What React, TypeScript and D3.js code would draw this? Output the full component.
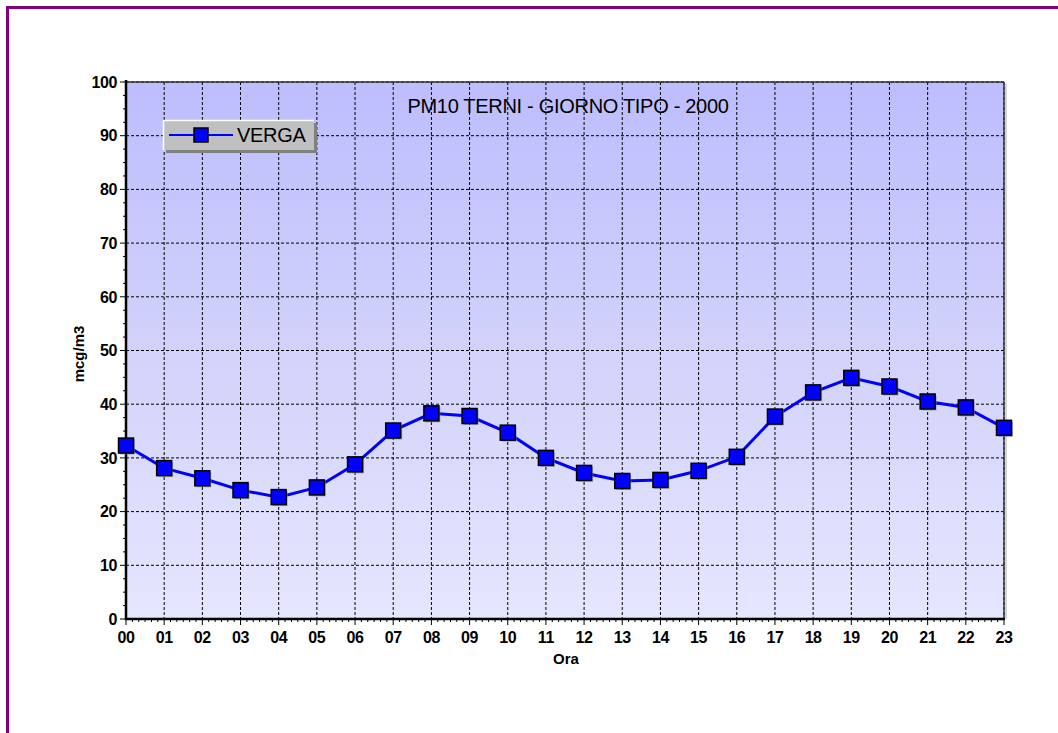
import React from "react";
import * as d3 from "d3";

const hours = ["00","01","02","03","04","05","06","07","08","09","10","11","12","13","14","15","16","17","18","19","20","21","22","23"];
const verga = [32.3,28.1,26.2,24.0,22.7,24.5,28.8,35.1,38.3,37.8,34.7,30.0,27.2,25.7,25.9,27.6,30.2,37.7,42.2,44.9,43.3,40.5,39.4,35.6];
const yTicks = [0,10,20,30,40,50,60,70,80,90,100];
const title = "PM10 TERNI - GIORNO TIPO - 2000";
const seriesName = "VERGA";
const xTitle = "Ora";
const yTitle = "mcg/m3";

export default function App() {
  const W = 1058, H = 733;
  const L = 126, R = 1004, T = 82, B = 619;
  const x = d3.scalePoint<string>().domain(hours).range([L, R]);
  const y = d3.scaleLinear().domain([0, 100]).range([B, T]);
  const step = x.step();
  const font = "'Liberation Sans', Arial, sans-serif";

  const line = d3.line<number>().x((_, i) => x(hours[i])!).y(d => y(d));

  const minorX: number[] = [];
  hours.forEach((h, i) => {
    if (i < hours.length - 1) for (let k = 1; k <= 5; k++) minorX.push(x(h)! + (step * k) / 6);
  });
  const minorY: number[] = [];
  for (let v = 2.5; v < 100; v += 2.5) if (v % 10 !== 0) minorY.push(v);

  const ms = 15;
  return (
    <svg width={W} height={H} style={{ position: "absolute", left: 0, top: 0 }}>
      <defs>
        <linearGradient id="bg" x1="0" y1="0" x2="0" y2="1">
          <stop offset="0" stopColor="#bdbdff" />
          <stop offset="0.5" stopColor="#d2d2fb" />
          <stop offset="1" stopColor="#e6e6ff" />
        </linearGradient>
      </defs>
      <rect x={0} y={0} width={W} height={H} fill="#ffffff" />
      <rect x={7.5} y={7.5} width={W + 20} height={H + 20} fill="none" stroke="#800080" strokeWidth={3} />
      <rect x={L} y={T} width={R - L} height={B - T} fill="url(#bg)" />
      {/* grid */}
      {yTicks.filter(v => v > 0).map(v => (
        <line key={"gy" + v} x1={L} x2={R} y1={y(v)} y2={y(v)} stroke="#000" strokeWidth={1} strokeDasharray="3,2" />
      ))}
      {hours.slice(1).map(h => (
        <line key={"gx" + h} x1={x(h)} x2={x(h)} y1={T} y2={B} stroke="#000" strokeWidth={1} strokeDasharray="3,2" />
      ))}
      {/* frame top/right */}
      <line x1={L} x2={R} y1={T} y2={T} stroke="#333" strokeWidth={1.5} />
      <line x1={R} x2={R} y1={T} y2={B} stroke="#333" strokeWidth={1.5} />
      <line x1={R + 2} x2={R + 2} y1={T + 2} y2={B} stroke="#aaa" strokeWidth={1} />
      {/* axes */}
      <line x1={L} x2={L} y1={T - 2} y2={B + 1} stroke="#000" strokeWidth={2.5} />
      <line x1={L - 1} x2={R + 1} y1={B} y2={B} stroke="#000" strokeWidth={2.5} />
      {yTicks.map(v => (
        <line key={"ty" + v} x1={L - 6} x2={L} y1={y(v)} y2={y(v)} stroke="#000" strokeWidth={1} />
      ))}
      {minorY.map(v => (
        <line key={"my" + v} x1={L - 3} x2={L} y1={y(v)} y2={y(v)} stroke="#000" strokeWidth={1} />
      ))}
      {hours.map(h => (
        <line key={"tx" + h} x1={x(h)} x2={x(h)} y1={B} y2={B + 6} stroke="#000" strokeWidth={1} />
      ))}
      {minorX.map((v, i) => (
        <line key={"mx" + i} x1={v} x2={v} y1={B} y2={B + 3} stroke="#000" strokeWidth={1} />
      ))}
      {/* tick labels */}
      {yTicks.map(v => (
        <text key={"ly" + v} x={L - 9} y={y(v)} dy="0.36em" textAnchor="end" fontFamily={font} fontWeight="bold" fontSize={16} letterSpacing={-0.4} fill="#000">{v}</text>
      ))}
      {hours.map(h => (
        <text key={"lx" + h} x={x(h)} y={B + 24} textAnchor="middle" fontFamily={font} fontWeight="bold" fontSize={16} letterSpacing={-0.4} fill="#000">{h}</text>
      ))}
      <text x={(L + R) / 2 + 1} y={B + 45} textAnchor="middle" fontFamily={font} fontWeight="bold" fontSize={15} fill="#000">{xTitle}</text>
      <text transform={`translate(${84},${354}) rotate(-90)`} textAnchor="middle" fontFamily={font} fontWeight="bold" fontSize={15} fill="#000">{yTitle}</text>
      <text x={568} y={113} textAnchor="middle" fontFamily={font} fontSize={20} letterSpacing={-0.3} fill="#000">{title}</text>
      {/* series */}
      <path d={line(verga) || ""} fill="none" stroke="#0000ff" strokeWidth={3} />
      {verga.map((v, i) => (
        <g key={"m" + i}>
          <rect x={x(hours[i])! - ms / 2 + 1.5} y={y(v) - ms / 2 + 1.5} width={ms} height={ms} fill="#808080" opacity={0.6} />
          <rect x={x(hours[i])! - ms / 2} y={y(v) - ms / 2} width={ms} height={ms} fill="#0000ff" stroke="#000" strokeWidth={1.5} />
        </g>
      ))}
      {/* legend */}
      <g>
        <rect x={166} y={123} width={151} height={30} fill="#808080" />
        <rect x={163} y={120} width={151} height={30} fill="#c0c0c0" />
        <line x1={163} x2={314} y1={120.5} y2={120.5} stroke="#fff" strokeWidth={1.5} />
        <line x1={163.5} x2={163.5} y1={120} y2={150} stroke="#fff" strokeWidth={1.5} />
        <line x1={169} x2={233} y1={135} y2={135} stroke="#0000ff" strokeWidth={2} />
        <rect x={201 - 7} y={135 - 7} width={14} height={14} fill="#0000ff" stroke="#000" strokeWidth={1.5} />
        <text x={237} y={142} fontFamily={font} fontSize={20} letterSpacing={-0.3} fill="#000">{seriesName}</text>
      </g>
    </svg>
  );
}
